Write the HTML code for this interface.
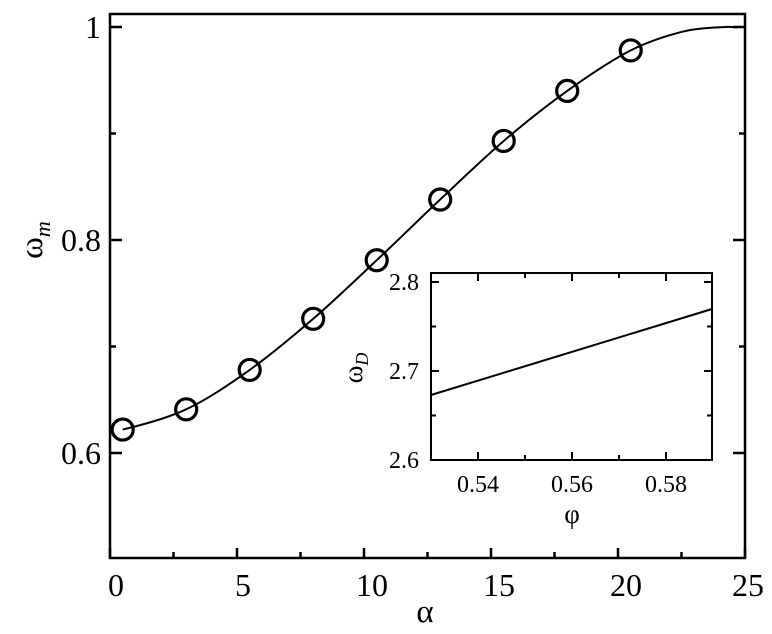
<!DOCTYPE html>
<html><head><style>body{margin:0;background:#fff}svg{display:block}text{font-family:"Liberation Serif",serif;fill:#000}</style></head>
<body>
<svg id="s" width="772" height="634" viewBox="0 0 772 634" xmlns="http://www.w3.org/2000/svg">
<rect x="110" y="14" width="635" height="544" fill="none" stroke="#000" stroke-width="2.5"/>
<g stroke="#000" stroke-width="2.5" id="ticks"></g>
<g font-size="32" text-anchor="middle">
<text x="116" y="596">0</text><text x="243" y="596">5</text><text x="372" y="596">10</text><text x="499" y="596">15</text><text x="626" y="596">20</text><text x="748" y="596">25</text>
</g>
<g font-size="32" text-anchor="end">
<text x="101" y="38">1</text><text x="101" y="251">0.8</text><text x="101" y="464">0.6</text>
</g>
<text x="425" y="622" font-size="33" text-anchor="middle">α</text>
<text transform="translate(42,240) rotate(-90)" font-size="33" text-anchor="middle">ω<tspan font-size="22" font-style="italic" dy="8">m</tspan></text>
<path id="curve" fill="none" stroke="#000" stroke-width="2"/>
<g id="pts" fill="none" stroke="#000" stroke-width="3.2"></g>
<rect x="431" y="273" width="281" height="187" fill="#fff" stroke="#000" stroke-width="2"/>
<line x1="431" y1="395" x2="712" y2="309" stroke="#000" stroke-width="2"/>
<g id="iticks" stroke="#000" stroke-width="2"></g>
<g font-size="24" text-anchor="end">
<text x="419" y="290">2.8</text><text x="419" y="379">2.7</text><text x="419" y="468">2.6</text>
</g>
<g font-size="24" text-anchor="middle">
<text x="478" y="492">0.54</text><text x="572" y="492">0.56</text><text x="666" y="492">0.58</text>
</g>
<text x="572" y="523" font-size="27" text-anchor="middle">φ</text>
<text transform="translate(362,368) rotate(-90)" font-size="27" text-anchor="middle">ω<tspan font-size="18" font-style="italic" dy="6">D</tspan></text>
</svg>
<script>
var X=a=>110+a*25.4, Y=v=>453-(v-0.6)*1065;
var t='';
for(var i=0;i<=10;i++){var x=X(i*2.5),L=i%2?6:10;t+=`<line x1="${x}" y1="558" x2="${x}" y2="${558-L}"/>`;}
[0.6,0.7,0.8,0.9,1.0].forEach((v,i)=>{var y=Y(v),L=i%2?6:12;t+=`<line x1="110" y1="${y}" x2="${110+L}" y2="${y}"/><line x1="745" y1="${y}" x2="${745-L}" y2="${y}"/>`;});
document.getElementById('ticks').innerHTML=t;
var it='';
[2.6,2.65,2.7,2.75,2.8].forEach((v,i)=>{var y=460-(v-2.6)*890,L=i%2?5:8;it+=`<line x1="431" y1="${y}" x2="${431+L}" y2="${y}"/><line x1="712" y1="${y}" x2="${712-L}" y2="${y}"/>`;});
[0.54,0.55,0.56,0.57,0.58].forEach((v,i)=>{var x=478+(v-0.54)*4700,L=i%2?5:8;it+=`<line x1="${x}" y1="460" x2="${x}" y2="${460-L}"/><line x1="${x}" y1="273" x2="${x}" y2="${273+L}"/>`;});
document.getElementById('iticks').innerHTML=it;
var P=[[0.5,0.622],[3,0.641],[5.5,0.678],[8,0.726],[10.5,0.781],[13,0.838],[15.5,0.893],[18,0.940],[20.5,0.978]],p='';
P.forEach(q=>{p+=`<circle cx="${X(q[0])}" cy="${Y(q[1])}" r="10.5"/>`;});
document.getElementById('pts').innerHTML=p;
var C=[[-0.5,0.621],[0.5,0.622],[3,0.641],[5.5,0.678],[8,0.726],[10.5,0.781],[13,0.838],[15.5,0.893],[18,0.940],[20.5,0.978],[22.6,0.996],[24.2,1.0],[24.7,0.9995],[25.5,0.998]].map(q=>[X(q[0]),Y(q[1])]);
var d='M'+C[1][0]+','+C[1][1];
for(var i=1;i<C.length-2;i++){var p0=C[i-1],p1=C[i],p2=C[i+1],p3=C[i+2];
d+=` C${(p1[0]+(p2[0]-p0[0])/6).toFixed(1)},${(p1[1]+(p2[1]-p0[1])/6).toFixed(1)} ${(p2[0]-(p3[0]-p1[0])/6).toFixed(1)},${(p2[1]-(p3[1]-p1[1])/6).toFixed(1)} ${p2[0].toFixed(1)},${p2[1].toFixed(1)}`;}
document.getElementById('curve').setAttribute('d',d);
</script>
</body></html>
